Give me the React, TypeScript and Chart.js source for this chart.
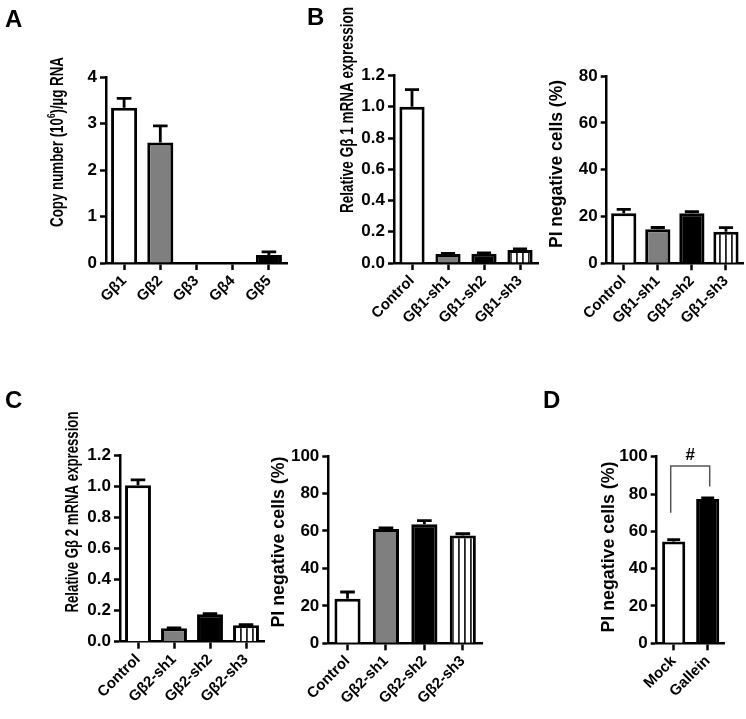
import React, { useEffect, useRef } from 'react';
import { Chart, registerables } from 'chart.js';

Chart.register(...registerables);

// ---------------- DATA ----------------
const aCategories = ['Gβ1', 'Gβ2', 'Gβ3', 'Gβ4', 'Gβ5'];
const aValues = [3.34, 2.59, 0, 0, 0.17];
const aErrors = [0.2, 0.36, 0, 0, 0.07];
const aTicks = { max: 4, step: 1, decimals: 0 };

const bCategories = ['Control', 'Gβ1-sh1', 'Gβ1-sh2', 'Gβ1-sh3'];
const bExprValues = [1.0, 0.058, 0.06, 0.083];
const bExprErrors = [0.11, 0.004, 0.004, 0.007];
const bExprTicks = { max: 1.2, step: 0.2, decimals: 1 };
const bPiValues = [21.4, 14.5, 21.4, 13.5];
const bPiErrors = [1.6, 0.8, 0.7, 1.7];
const bPiTicks = { max: 80, step: 20, decimals: 0 };

const cCategories = ['Control', 'Gβ2-sh1', 'Gβ2-sh2', 'Gβ2-sh3'];
const cExprValues = [1.005, 0.086, 0.177, 0.105];
const cExprErrors = [0.035, 0.003, 0.004, 0.005];
const cExprTicks = { max: 1.2, step: 0.2, decimals: 1 };
const cPiValues = [23.8, 61, 63.5, 57.5];
const cPiErrors = [3.6, 0.6, 2.0, 1.0];
const cPiTicks = { max: 100, step: 20, decimals: 0 };

const dCategories = ['Mock', 'Gallein'];
const dValues = [54.6, 77.3];
const dErrors = [1.0, 0.6];
const dTicks = { max: 100, step: 20, decimals: 0 };
const dBracket = { leftLow: 70, top: 95, rightLow: 84, label: '#' };

const titleA = [{ t: 'Copy number (10' }, { t: '6', sup: true }, { t: ')/µg RNA' }];
const titleB1 = [{ t: 'Relative Gβ 1 mRNA expression' }];
const titlePI = [{ t: 'PI negative cells (%)' }];
const titleC1 = [{ t: 'Relative Gβ 2 mRNA expression' }];

// ---------------- STYLE ----------------
const FONT = "'Liberation Sans', Arial, Helvetica, sans-serif";
const GRAY = '#7f7f7f';

const errorBarPlugin = {
  id: 'errorBars',
  afterDatasetsDraw(chart: any, _args: any, opts: any) {
    if (!opts || !opts.errors) return;
    const ctx = chart.ctx;
    const meta = chart.getDatasetMeta(0);
    const ys = chart.scales.y;
    const vals = chart.data.datasets[0].data;
    ctx.save();
    ctx.strokeStyle = '#000';
    ctx.lineWidth = 2.8;
    meta.data.forEach((bar: any, i: number) => {
      const e = opts.errors[i];
      if (!e) return;
      const v = vals[i];
      const y0 = ys.getPixelForValue(v);
      const y1 = ys.getPixelForValue(v + e);
      const half = (bar.width || 20) * 0.28;
      ctx.beginPath();
      ctx.moveTo(bar.x, y0);
      ctx.lineTo(bar.x, y1);
      ctx.moveTo(bar.x - half, y1);
      ctx.lineTo(bar.x + half, y1);
      ctx.stroke();
    });
    ctx.restore();
  },
};

const yTitlePlugin = {
  id: 'yTitle',
  afterDraw(chart: any, _args: any, opts: any) {
    if (!opts || !opts.segments) return;
    const ctx = chart.ctx;
    ctx.save();
    const size = opts.size;
    const mainFont = `bold ${size}px ${FONT}`;
    const supFont = `bold ${Math.round(size * 0.62)}px ${FONT}`;
    let total = 0;
    const widths = opts.segments.map((s: any) => {
      ctx.font = s.sup ? supFont : mainFont;
      const w = ctx.measureText(s.t).width;
      total += w;
      return w;
    });
    ctx.translate(opts.x, opts.y);
    ctx.rotate(-Math.PI / 2);
    ctx.scale(opts.length / total, 1);
    ctx.fillStyle = '#000';
    ctx.textBaseline = 'middle';
    ctx.textAlign = 'left';
    let x = -total / 2;
    opts.segments.forEach((s: any, i: number) => {
      ctx.font = s.sup ? supFont : mainFont;
      ctx.fillText(s.t, x, s.sup ? -size * 0.35 : 0);
      x += widths[i];
    });
    ctx.restore();
  },
};

const bracketPlugin = {
  id: 'bracket',
  afterDraw(chart: any, _args: any, opts: any) {
    if (!opts || opts.top === undefined) return;
    const ctx = chart.ctx;
    const meta = chart.getDatasetMeta(0);
    const ys = chart.scales.y;
    const x0 = meta.data[0].x - 3;
    const x1 = meta.data[1].x + 2;
    const yt = ys.getPixelForValue(opts.top);
    ctx.save();
    ctx.strokeStyle = '#555';
    ctx.lineWidth = 1.5;
    ctx.beginPath();
    ctx.moveTo(x0, ys.getPixelForValue(opts.leftLow));
    ctx.lineTo(x0, yt);
    ctx.lineTo(x1, yt);
    ctx.lineTo(x1, ys.getPixelForValue(opts.rightLow));
    ctx.stroke();
    ctx.fillStyle = '#000';
    ctx.font = `bold 17px ${FONT}`;
    ctx.textAlign = 'center';
    ctx.textBaseline = 'bottom';
    ctx.fillText(opts.label, (x0 + x1) / 2, yt - 2);
    ctx.restore();
  },
};

type PanelSpec = {
  x: number; y: number; w: number; h: number;
  area: { left: number; right: number; top: number; bottom: number };
  labels: string[]; values: number[]; errors: number[]; fills: string[];
  ticks: { max: number; step: number; decimals: number };
  barPct: number; tickSize: number; labelSize: number;
  title: { segments: any[]; x: number; y: number; length: number; size: number };
  bracket?: any;
};

function makeStripes(ctx: CanvasRenderingContext2D) {
  const c = document.createElement('canvas');
  c.width = 6; c.height = 6;
  const g = c.getContext('2d')!;
  g.fillStyle = '#fff';
  g.fillRect(0, 0, 6, 6);
  g.fillStyle = '#222';
  g.fillRect(0, 0, 1.8, 6);
  return ctx.createPattern(c, 'repeat');
}

function makeConfig(p: PanelSpec, ctx: CanvasRenderingContext2D): any {
  const stripes = makeStripes(ctx);
  const fills = p.fills.map((f) => (f === 'stripes' ? stripes : f));
  const tickFont = { family: FONT, weight: 'bold' as const, size: p.tickSize };
  return {
    type: 'bar',
    data: {
      labels: p.labels,
      datasets: [{
        data: p.values,
        backgroundColor: fills,
        borderColor: '#000',
        borderWidth: 3,
        barPercentage: p.barPct,
        categoryPercentage: 1,
      }],
    },
    options: {
      responsive: false,
      animation: false,
      devicePixelRatio: 1,
      events: [],
      layout: { padding: { left: 0, top: p.area.top - p.y, right: p.x + p.w - p.area.right, bottom: 0 } },
      plugins: {
        legend: { display: false },
        tooltip: { enabled: false },
        errorBars: { errors: p.errors },
        yTitle: { ...p.title, x: p.title.x - p.x, y: p.title.y - p.y },
        bracket: p.bracket || {},
      },
      scales: {
        x: {
          type: 'category',
          offset: true,
          grid: { display: true, offset: false, drawOnChartArea: false, drawTicks: true, tickLength: 7, tickWidth: 2.5, tickColor: '#000' },
          border: { display: true, color: '#000', width: 2.5 },
          ticks: { color: '#000', font: { family: FONT, weight: 'bold', size: p.labelSize }, minRotation: 45, maxRotation: 45, autoSkip: false, padding: 2 },
          afterFit: (s: any) => { s.height = p.y + p.h - p.area.bottom; },
        },
        y: {
          min: 0,
          max: p.ticks.max,
          grid: { display: true, drawOnChartArea: false, drawTicks: true, tickLength: 6, tickWidth: 2.5, tickColor: '#000' },
          border: { display: true, color: '#000', width: 2.5 },
          ticks: {
            color: '#000',
            font: tickFont,
            stepSize: p.ticks.step,
            padding: 3,
            callback: (v: any) => Number(v).toFixed(p.ticks.decimals),
          },
          afterFit: (s: any) => { s.width = p.area.left - p.x; },
        },
      },
    },
    plugins: [errorBarPlugin, yTitlePlugin, bracketPlugin],
  };
}

const panels: PanelSpec[] = [
  {
    x: 0, y: 0, w: 300, h: 330,
    area: { left: 106, right: 287, top: 77, bottom: 263 },
    labels: aCategories, values: aValues, errors: aErrors,
    fills: ['#fff', GRAY, '#fff', '#fff', '#000'],
    ticks: aTicks, barPct: 0.72, tickSize: 17, labelSize: 15,
    title: { segments: titleA, x: 58, y: 142, length: 170, size: 18 },
  },
  {
    x: 300, y: 0, w: 245, h: 330,
    area: { left: 394, right: 538, top: 75.5, bottom: 263 },
    labels: bCategories, values: bExprValues, errors: bExprErrors,
    fills: ['#fff', GRAY, '#000', 'stripes'],
    ticks: bExprTicks, barPct: 0.7, tickSize: 17, labelSize: 15,
    title: { segments: titleB1, x: 348, y: 110, length: 206, size: 18 },
  },
  {
    x: 545, y: 0, w: 201, h: 330,
    area: { left: 606.7, right: 743, top: 76, bottom: 263.3 },
    labels: bCategories, values: bPiValues, errors: bPiErrors,
    fills: ['#fff', GRAY, '#000', 'stripes'],
    ticks: bPiTicks, barPct: 0.74, tickSize: 17, labelSize: 15,
    title: { segments: titlePI, x: 557, y: 164, length: 168, size: 18 },
  },
  {
    x: 0, y: 380, w: 290, h: 339,
    area: { left: 120, right: 264, top: 455, bottom: 641.7 },
    labels: cCategories, values: cExprValues, errors: cExprErrors,
    fills: ['#fff', GRAY, '#000', 'stripes'],
    ticks: cExprTicks, barPct: 0.72, tickSize: 17, labelSize: 15,
    title: { segments: titleC1, x: 73, y: 512, length: 201, size: 18 },
  },
  {
    x: 260, y: 380, w: 280, h: 339,
    area: { left: 328.3, right: 482, top: 456, bottom: 643.3 },
    labels: cCategories, values: cPiValues, errors: cPiErrors,
    fills: ['#fff', GRAY, '#000', 'stripes'],
    ticks: cPiTicks, barPct: 0.68, tickSize: 17, labelSize: 15,
    title: { segments: titlePI, x: 279, y: 542, length: 171, size: 18 },
  },
  {
    x: 580, y: 380, w: 166, h: 339,
    area: { left: 656.7, right: 724.7, top: 456.7, bottom: 643.3 },
    labels: dCategories, values: dValues, errors: dErrors,
    fills: ['#fff', '#000'],
    ticks: dTicks, barPct: 0.68, tickSize: 17, labelSize: 15,
    title: { segments: titlePI, x: 609, y: 547, length: 171, size: 18 },
    bracket: dBracket,
  },
];

const panelLetters = [
  { t: 'A', x: 5, y: 7 },
  { t: 'B', x: 307, y: 5 },
  { t: 'C', x: 5, y: 388 },
  { t: 'D', x: 543, y: 388 },
];

function Panel({ spec }: { spec: PanelSpec }) {
  const ref = useRef<HTMLCanvasElement>(null);
  useEffect(() => {
    const canvas = ref.current!;
    const ctx = canvas.getContext('2d')!;
    const chart = new Chart(canvas, makeConfig(spec, ctx));
    return () => chart.destroy();
  }, [spec]);
  return (
    <canvas
      ref={ref}
      width={spec.w}
      height={spec.h}
      style={{ position: 'absolute', left: spec.x, top: spec.y, width: spec.w, height: spec.h }}
    />
  );
}

export default function App() {
  return (
    <div style={{ position: 'absolute', left: 0, top: 0, width: 746, height: 719, background: '#fff', overflow: 'hidden' }}>
      {panels.map((p, i) => <Panel key={i} spec={p} />)}
      {panelLetters.map((l) => (
        <div
          key={l.t}
          style={{ position: 'absolute', left: l.x, top: l.y, fontFamily: FONT, fontWeight: 'bold', fontSize: 24, lineHeight: '24px', color: '#000' }}
        >
          {l.t}
        </div>
      ))}
    </div>
  );
}
